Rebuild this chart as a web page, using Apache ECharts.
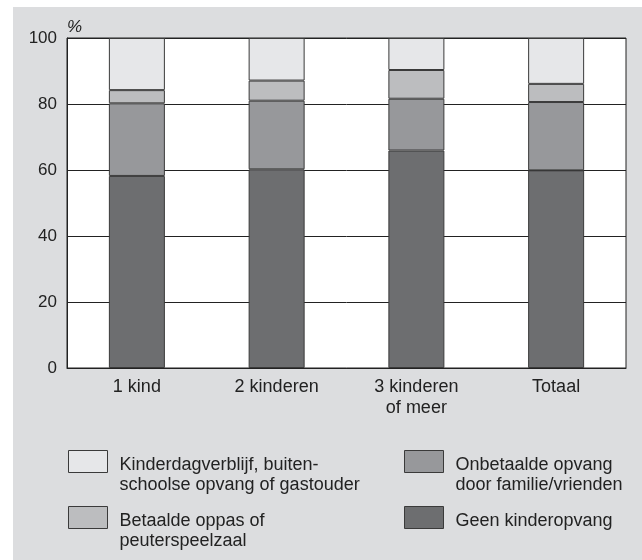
<!DOCTYPE html>
<html>
<head>
<meta charset="utf-8">
<script src="https://cdn.jsdelivr.net/npm/echarts@6/dist/echarts.min.js"></script>
<style>
  html, body { margin: 0; padding: 0; background: #ffffff; }
  #chart { width: 642px; height: 560px; }
</style>
</head>
<body>
<div id="chart"></div>
<script>
// categories and tick labels
const categories = ['1 kind', '2 kinderen', '3 kinderen\nof meer', 'Totaal']
const yTicks = [0, 20, 40, 60, 80, 100]

// series values (%), bottom to top of each stack
const geenOpvang = [58.2, 60.2, 65.9, 59.9]
const onbetaald = [22.0, 20.8, 15.7, 20.7]
const betaald = [4.0, 6.1, 8.7, 5.5]
const kinderdagverblijf = [15.8, 12.9, 9.7, 13.9]

const names = {
  kdv: 'Kinderdagverblijf, buiten-\nschoolse opvang of gastouder',
  betaald: 'Betaalde oppas of\npeuterspeelzaal',
  onbetaald: 'Onbetaalde opvang\ndoor familie/vrienden',
  geen: 'Geen kinderopvang'
}

const font = '"Liberation Sans", Arial, sans-serif'
const ink = '#222222'

const my_chart = echarts.init(document.getElementById('chart'), null, {renderer: 'canvas'})

function barSeries(name, data, color) {
  return {
    name: name,
    type: 'bar',
    stack: 'opvang',
    data: data,
    barWidth: 56,
    itemStyle: { color: color, borderColor: '#3a3a3a', borderWidth: 1 },
    emphasis: { disabled: true }
  }
}

// one legend per item so the two columns sit like the original.
// the icon is a 39x22 box drawn at the top of a taller, wider symbol area,
// so the text (centred on that area) starts level with the box
function legendItem(name, left, top) {
  const nLines = name.split('\n').length
  const h = nLines > 1 ? 50 : 30
  const w = 46
  return {
    left: left,
    top: top,
    padding: 0,
    itemWidth: w,
    itemHeight: h,
    icon: 'path://M0,0L39,0L39,22L0,22Z M' + w + ',' + h,
    selectedMode: false,
    data: [name],
    itemStyle: { borderColor: '#3a3a3a', borderWidth: 1 },
    textStyle: { fontFamily: font, fontSize: 18, color: ink, lineHeight: 20 }
  }
}

my_chart.setOption({
  backgroundColor: '#ffffff',
  animation: false,
  graphic: [
    {
      type: 'rect', z: -10, silent: true,
      shape: { x: 13, y: 7, width: 629, height: 553 },
      style: { fill: '#dcdddf' }
    }
  ],
  grid: {
    left: 67, right: 16, top: 38, bottom: 192,
    show: true, backgroundColor: '#ffffff', borderColor: ink, borderWidth: 1
  },
  legend: [
    legendItem(names.kdv, 68, 450),
    legendItem(names.betaald, 68, 506),
    legendItem(names.onbetaald, 404, 450),
    legendItem(names.geen, 404, 506)
  ],
  xAxis: {
    type: 'category',
    data: categories,
    axisLine: { lineStyle: { color: ink, width: 1 } },
    axisTick: { show: false },
    axisLabel: { fontFamily: font, fontSize: 18, color: ink, margin: 9, lineHeight: 21 }
  },
  yAxis: {
    type: 'value',
    min: 0, max: 100, interval: 20,
    name: '%',
    nameLocation: 'end',
    nameGap: 2,
    nameTextStyle: { fontFamily: font, fontSize: 17, fontStyle: 'italic', color: ink, align: 'left', padding: [0, 0, 0, 0] },
    axisLine: { show: true, lineStyle: { color: ink, width: 1 } },
    axisTick: { show: false },
    axisLabel: {
      fontFamily: font, fontSize: 17, color: ink, margin: 10,
      formatter: function (v) { return yTicks.indexOf(v) >= 0 ? String(v) : '' }
    },
    splitLine: { show: true, lineStyle: { color: ink, width: 1 } }
  },
  series: [
    barSeries(names.geen, geenOpvang, '#6d6e70'),
    barSeries(names.onbetaald, onbetaald, '#97989b'),
    barSeries(names.betaald, betaald, '#bcbdbf'),
    barSeries(names.kdv, kinderdagverblijf, '#e6e7e9')
  ]
})
</script>
</body>
</html>
